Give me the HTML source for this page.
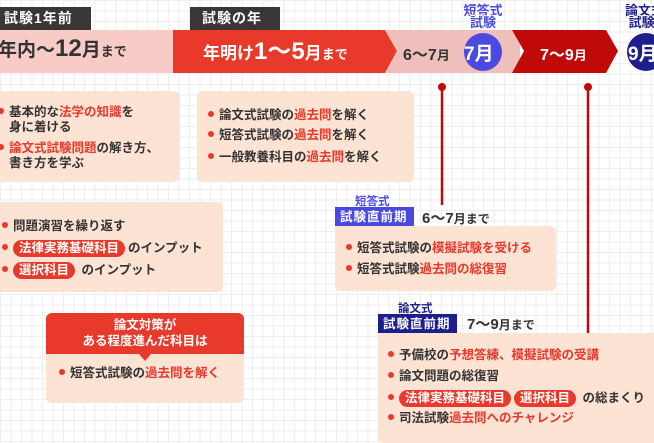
<!DOCTYPE html>
<html><head><meta charset="utf-8"><style>
*{margin:0;padding:0;box-sizing:border-box}
body{width:654px;height:435px;overflow:hidden;position:relative;font-family:"Liberation Sans","Noto Sans CJK JP",sans-serif;font-weight:bold;color:#333;
background-color:#fff;background-image:linear-gradient(#eee 1px,transparent 1px),linear-gradient(90deg,#eee 1px,transparent 1px);background-size:10.5px 10.5px}
.a{position:absolute}
.lab{background:#3a3536;color:#fff;font-size:14px;line-height:23px;padding-left:4px;letter-spacing:1px}
.box{background:#fde3d4;border-radius:6px}
.r{color:#e8392b}
.row{position:absolute;font-size:12.5px;white-space:nowrap;line-height:15px}
.row:before{content:"";display:inline-block;width:6px;height:6px;border-radius:50%;background:#e8392b;margin-right:5px;vertical-align:2px}
.nb:before{display:none}
.pill{display:inline-block;background:#e8392b;color:#fff;border-radius:9px;padding:1px 6px;margin-right:3px}
.tag{color:#fff;font-size:12.5px;line-height:20px;padding-left:5px;letter-spacing:1px}
</style></head><body>
<svg class="a" style="left:0;top:0" width="654" height="435">
<polygon points="0,30 173,30 185,51 173,73 0,73" fill="#f9cbc7"/>
<polygon points="173,30 385,30 397,51 385,73 173,73" fill="#e8392b"/>
<polygon points="385,30 520,30 520,73 385,73 397,51" fill="#efbfbb"/>
<polygon points="512,30 606,30 618,51 606,73 512,73 524,51" fill="#c00a0a"/>
<circle cx="483" cy="52" r="19" fill="#4a4ae0"/>
<circle cx="646" cy="52" r="19" fill="#1e1e8c"/>
<line x1="442" y1="87" x2="442" y2="205" stroke="#c00a0a" stroke-width="2.5"/>
<circle cx="442" cy="87" r="4" fill="#c00a0a"/>
<line x1="588" y1="87" x2="588" y2="333" stroke="#c00a0a" stroke-width="2.5"/>
<circle cx="588" cy="87" r="4" fill="#c00a0a"/>
</svg>
<div class="a lab" style="left:0;top:7px;width:91px">試験1年前</div>
<div class="a lab" style="left:190px;top:7px;width:90px;padding-left:12px">試験の年</div>
<div class="a" style="left:-2px;top:35px;font-size:19px">年内〜<span style="font-size:24px">12</span>月<span style="font-size:13px">まで</span></div>
<div class="a" style="left:203px;top:31px;font-size:17px;color:#fff">年明け<span style="font-size:24px">1〜5</span>月<span style="font-size:13px">まで</span></div>
<div class="a" style="left:403px;top:41px;font-size:16px">6〜7<span style="font-size:13px">月</span></div>
<div class="a" style="left:540px;top:41px;font-size:16px;color:#fff">7〜9<span style="font-size:13px">月</span></div>
<div class="a" style="left:464px;top:39px;font-size:19px;color:#fff">7月</div>
<div class="a" style="left:628px;top:39px;font-size:19px;color:#fff;white-space:nowrap">9月</div>
<div class="a" style="left:462px;top:5px;font-size:13px;color:#4a4ae0;line-height:12px;text-align:center;width:42px;-webkit-text-stroke:2px #fff;paint-order:stroke">短答式<br>試験</div>
<div class="a" style="left:625px;top:5px;font-size:13px;color:#1e1e8c;line-height:12px;width:42px;white-space:nowrap;-webkit-text-stroke:2px #fff;paint-order:stroke">論文式<br>&nbsp;試験</div>

<div class="a box" style="left:-6px;top:91px;width:186px;height:91px"></div>
<div class="row" style="left:-2px;top:105px">基本的な<span class="r">法学の知識</span>を</div>
<div class="row nb" style="left:9px;top:120px">身に着ける</div>
<div class="row" style="left:-2px;top:141px"><span class="r">論文式試験問題</span>の解き方、</div>
<div class="row nb" style="left:9px;top:156px">書き方を学ぶ</div>

<div class="a box" style="left:197px;top:91px;width:217px;height:91px"></div>
<div class="row" style="left:208px;top:108px">論文式試験の<span class="r">過去問</span>を解く</div>
<div class="row" style="left:208px;top:128px">短答式試験の<span class="r">過去問</span>を解く</div>
<div class="row" style="left:208px;top:150px">一般教養科目の<span class="r">過去問</span>を解く</div>

<div class="a box" style="left:-6px;top:202px;width:229px;height:90px"></div>
<div class="row" style="left:2px;top:219px">問題演習を繰り返す</div>
<div class="row" style="left:2px;top:240px"><span class="pill">法律実務基礎科目</span>のインプット</div>
<div class="row" style="left:2px;top:262px"><span class="pill">選択科目</span> のインプット</div>

<div class="a box" style="left:46px;top:313px;width:198px;height:90px"></div>
<div class="a" style="left:46px;top:313px;width:198px;height:41px;background:#e8392b;border-radius:6px 6px 0 0;color:#fff;font-size:12.5px;text-align:center;line-height:16px;padding-top:4px">論文対策が<br>ある程度進んだ科目は</div>
<div class="a" style="left:139px;top:354px;width:0;height:0;border-left:6px solid transparent;border-right:6px solid transparent;border-top:7px solid #e8392b"></div>
<div class="row" style="left:59px;top:366px">短答式試験の<span class="r">過去問を解く</span></div>

<div class="a" style="left:355px;top:193px;font-size:11.5px;color:#4a4ae0">短答式</div>
<div class="a tag" style="left:335px;top:207px;width:79px;background:#4a4ae0">試験直前期</div>
<div class="a" style="left:422px;top:207px;font-size:15px">6〜7<span style="font-size:12px">月まで</span></div>
<div class="a box" style="left:335px;top:226px;width:221px;height:65px;border-radius:0 6px 6px 6px"></div>
<div class="row" style="left:346px;top:241px">短答式試験の<span class="r">模擬試験を受ける</span></div>
<div class="row" style="left:346px;top:262px">短答式試験<span class="r">過去問の総復習</span></div>

<div class="a" style="left:398px;top:300px;font-size:11.5px;color:#1e1e8c">論文式</div>
<div class="a tag" style="left:378px;top:314px;width:79px;background:#1e1e8c">試験直前期</div>
<div class="a" style="left:467px;top:313px;font-size:15px">7〜9<span style="font-size:12px">月まで</span></div>
<div class="a box" style="left:378px;top:333px;width:290px;height:110px;border-radius:0 6px 6px 6px"></div>
<div class="row" style="left:388px;top:348px">予備校の<span class="r">予想答練、模擬試験の受講</span></div>
<div class="row" style="left:388px;top:369px">論文問題の総復習</div>
<div class="row" style="left:388px;top:390px"><span class="pill">法律実務基礎科目</span><span class="pill">選択科目</span> の総まくり</div>
<div class="row" style="left:388px;top:411px">司法試験<span class="r">過去問へのチャレンジ</span></div>
</body></html>
